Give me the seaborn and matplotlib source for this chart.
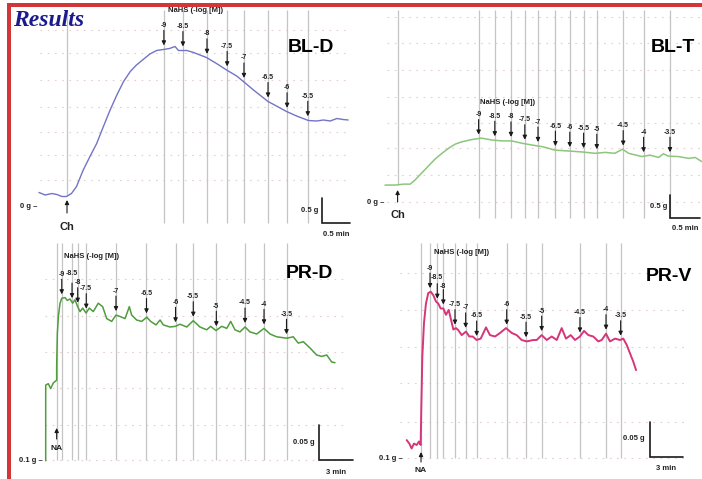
import numpy as np
import pandas as pd
import seaborn as sns
import matplotlib.pyplot as plt

# ---- traces (time in min, tension in g) ----
bld_t = [0.0, 0.11, 0.23, 0.32, 0.41, 0.49, 0.58, 0.67, 0.79, 0.91, 1.03, 1.15, 1.27, 1.39, 1.51,
         1.63, 1.74, 1.86, 1.98, 2.10, 2.22, 2.33, 2.43, 2.49, 2.64, 2.76, 2.99, 3.17, 3.35, 3.53,
         3.65, 3.83, 4.09, 4.24, 4.42, 4.60, 4.81, 4.96, 5.08, 5.20, 5.32, 5.43, 5.52]
bld_g = [0.29, 0.24, 0.27, 0.25, 0.21, 0.21, 0.27, 0.41, 0.74, 1.01, 1.27, 1.61, 1.94, 2.24, 2.51,
         2.71, 2.84, 2.95, 3.06, 3.13, 3.15, 3.17, 3.21, 3.13, 3.13, 3.09, 2.99, 2.87, 2.74, 2.62,
         2.51, 2.34, 2.11, 2.02, 1.91, 1.82, 1.73, 1.72, 1.74, 1.72, 1.77, 1.75, 1.74]

blt_t = [0.00, 0.17, 0.31, 0.42, 0.50, 0.61, 0.72, 0.83, 0.95, 1.06, 1.17, 1.28, 1.45, 1.61, 1.78,
         1.95, 2.11, 2.28, 2.45, 2.64, 2.83, 3.06, 3.28, 3.50, 3.67, 3.83, 3.96, 4.06, 4.28, 4.42,
         4.56, 4.64, 4.72, 4.89, 5.06, 5.17, 5.28]
blt_g = [0.39, 0.39, 0.41, 0.41, 0.50, 0.65, 0.80, 0.95, 1.08, 1.19, 1.28, 1.33, 1.38, 1.41, 1.37,
         1.35, 1.35, 1.30, 1.26, 1.22, 1.15, 1.13, 1.11, 1.08, 1.10, 1.08, 1.17, 1.08, 1.01, 1.04,
         0.99, 1.07, 1.02, 1.01, 0.97, 0.99, 0.90]

prd_t = [0.0, 0.0, 0.23, 0.44, 0.67, 0.97, 0.97, 1.03, 1.12, 1.27, 1.42, 1.71, 1.91, 2.15, 2.39,
         2.59, 2.83, 3.04, 3.27, 3.57, 3.86, 4.21, 4.65, 5.04, 5.40, 5.84, 6.22, 6.58, 7.02, 7.40,
         7.61, 8.05, 8.50, 8.94, 9.29, 9.76, 10.12, 10.41, 11.0, 11.50, 11.88, 12.48, 13.06, 13.65,
         14.25, 14.60, 15.07, 15.58, 16.02, 16.37, 16.75, 17.19, 17.64, 18.08, 18.67, 19.32, 19.85,
         20.44, 21.33, 21.91, 22.35, 22.80, 23.39, 23.98, 24.42, 24.87, 25.31, 25.60]
prd_g = [0.099, 0.207, 0.209, 0.202, 0.210, 0.214, 0.233, 0.281, 0.305, 0.324, 0.331, 0.332, 0.328,
         0.330, 0.324, 0.329, 0.319, 0.312, 0.317, 0.310, 0.317, 0.312, 0.324, 0.319, 0.302, 0.298,
         0.307, 0.305, 0.302, 0.319, 0.307, 0.300, 0.298, 0.304, 0.298, 0.293, 0.300, 0.293, 0.290,
         0.291, 0.294, 0.290, 0.299, 0.290, 0.286, 0.291, 0.285, 0.291, 0.288, 0.298, 0.286, 0.283,
         0.290, 0.283, 0.280, 0.288, 0.280, 0.276, 0.274, 0.276, 0.267, 0.269, 0.260, 0.250, 0.248,
         0.250, 0.240, 0.239]

prv_t = [0.0, 0.24, 0.45, 0.66, 0.91, 1.12, 1.27, 1.33, 1.42, 1.57, 1.75, 1.96, 2.18, 2.42, 2.66,
         2.87, 3.09, 3.33, 3.57, 3.82, 4.0, 4.24, 4.48, 4.69, 5.0, 5.39, 5.69, 6.0, 6.36, 6.73, 7.21,
         7.57, 8.03, 8.48, 9.03, 9.55, 10.0, 10.45, 10.91, 11.51, 11.82, 12.27, 12.73, 13.18, 13.64,
         14.09, 14.48, 14.91, 15.3, 15.75, 16.12, 16.51, 16.96, 17.42, 17.73, 18.12, 18.48, 18.94,
         19.39, 19.69, 20.0, 20.3, 20.6, 20.85]
prv_g = [0.127, 0.122, 0.115, 0.122, 0.120, 0.125, 0.120, 0.175, 0.246, 0.294, 0.322, 0.337, 0.339,
         0.334, 0.325, 0.322, 0.315, 0.315, 0.306, 0.313, 0.301, 0.285, 0.287, 0.284, 0.277, 0.282,
         0.275, 0.275, 0.270, 0.272, 0.288, 0.277, 0.275, 0.280, 0.287, 0.280, 0.277, 0.270, 0.268,
         0.270, 0.270, 0.277, 0.270, 0.275, 0.270, 0.287, 0.272, 0.277, 0.270, 0.275, 0.283, 0.277,
         0.275, 0.268, 0.270, 0.279, 0.268, 0.272, 0.270, 0.272, 0.263, 0.251, 0.239, 0.227]

# NaHS additions (-log [M]) and their times (min)
doses_bl_d = ['-9', '-8.5', '-8', '-7.5', '-7', '-6.5', '-6', '-5.5']
doses_all = ['-9', '-8.5', '-8', '-7.5', '-7', '-6.5', '-6', '-5.5', '-5', '-4.5', '-4', '-3.5']
bld_dose_t = [2.23, 2.57, 3.0, 3.36, 3.66, 4.09, 4.43, 4.80]
blt_dose_t = [1.56, 1.83, 2.10, 2.33, 2.55, 2.84, 3.08, 3.31, 3.53, 3.97, 4.31, 4.75]
prd_dose_t = [1.42, 2.33, 2.83, 3.59, 6.22, 8.92, 11.49, 13.06, 15.10, 17.64, 19.32, 21.31]
prv_dose_t = [2.12, 2.78, 3.33, 4.39, 5.36, 6.36, 9.09, 10.85, 12.27, 15.75, 18.12, 19.45]

# pre-contraction agent and time (min)
stim_names = ['Ch', 'Ch', 'NA', 'NA']
stim_t = [0.5, 0.21, 0.97, 1.3]

panel_names = ['BL-D', 'BL-T', 'PR-D', 'PR-V']
baseline_g = [0.0, 0.0, 0.1, 0.1]
scale_g = [0.5, 0.5, 0.05, 0.05]
scale_min = [0.5, 0.5, 3, 3]

sns.set_theme(style='white')
plt.rcParams['font.family'] = ['Liberation Sans', 'DejaVu Sans']

W, H = 702, 479
fig = plt.figure(figsize=(W / 100, H / 100), dpi=100)
fig.patch.set_facecolor('white')

# layout of each panel, in pixels of the figure
layouts = [
    dict(rect=(10, 8, 355, 240), x0=39, ppm=56, y0=207, ppg=50, vtop=10, vbot=223,
         rows=[30, 53, 80, 107, 132, 155, 180], rowx=(40, 350), base_x=37,
         stim=(200, 213, 227, 8), stim_to_trace=True, nahs=(196, 11), name=(311, 48),
         bar=(322, 223), glab=(318, 211), tlab=(336, 234), color='#7274c6', lw=1.0, nudge={}),
    dict(rect=(355, 8, 702, 240), x0=385, ppm=60, y0=203, ppg=46, vtop=10, vbot=218,
         rows=[17, 43, 70, 97, 123, 148, 175, 202], rowx=(387, 700), base_x=384,
         stim=(190, 202, 215, 8), stim_to_trace=True, nahs=(508, 102), name=(673, 47),
         bar=(670, 218), glab=(667, 207), tlab=(685, 228), color='#8cc67c', lw=1.1, nudge={}),
    dict(rect=(10, 240, 355, 479), x0=45.7, ppm=11.3, y0=460, ppg=700, vtop=243, vbot=460,
         rows=[279, 316, 352, 388, 425, 460], rowx=(45, 345), base_x=43,
         stim=(428, 439, 448, 6), stim_to_trace=False, nahs=(92, 257), name=(309, 273),
         bar=(319, 460), glab=(315, 442), tlab=(336, 472), color='#4f9d3c', lw=1.1,
         nudge={'-8.5': 5}),
    dict(rect=(355, 240, 702, 479), x0=406.7, ppm=11.0, y0=459, ppg=700, vtop=243, vbot=458,
         rows=[273, 310, 347, 383, 422, 458], rowx=(400, 685), base_x=403,
         stim=(452, 462, 470, 6), stim_to_trace=False, nahs=(462, 253), name=(669, 277),
         bar=(650, 457), glab=(645, 438), tlab=(666, 469), color='#d6357a', lw=1.4,
         nudge={'-8': -2, '-8.5': 1}),
]

traces = [(bld_t, bld_g), (blt_t, blt_g), (prd_t, prd_g), (prv_t, prv_g)]
dose_labels = [doses_bl_d, doses_all, doses_all, doses_all]
dose_times = [bld_dose_t, blt_dose_t, prd_dose_t, prv_dose_t]

txt = dict(fontweight='bold', color='#222222')
arrow = dict(arrowstyle='-|>', color='#1a1a1a', lw=0.8, mutation_scale=6, shrinkA=0, shrinkB=0)

for i, p in enumerate(layouts):
    L, T, R, B = p['rect']
    ax = fig.add_axes([L / W, 1 - B / H, (R - L) / W, (B - T) / H])
    X = lambda px, p=p: (px - p['x0']) / p['ppm']
    Y = lambda py, p=p, b=baseline_g[i]: b + (p['y0'] - py) / p['ppg']
    dy = 1.0 / p['ppg']

    t, g = traces[i]
    df = pd.DataFrame({'t': t, 'g': g})

    # faint chart-paper rows
    ax.hlines([Y(r) for r in p['rows']], X(p['rowx'][0]), X(p['rowx'][1]),
              colors='#e5cfcf', linestyles=(0, (1.5, 5)), lw=0.8, zorder=0)

    # NaHS addition lines
    ax.vlines(dose_times[i], Y(p['vbot']), Y(p['vtop']), colors='#c4c4c4', lw=0.9, zorder=1)

    # pre-contraction line
    st = stim_t[i]
    if p['stim_to_trace']:
        ax.vlines(st, np.interp(st, t, g), Y(p['vtop']), colors='#c4c4c4', lw=0.9, zorder=1)
    else:
        ax.vlines(st, Y(p['vbot']), Y(p['vtop']), colors='#c4c4c4', lw=0.9, zorder=1)

    sns.lineplot(data=df, x='t', y='g', ax=ax, estimator=None, sort=False,
                 color=p['color'], lw=p['lw'], zorder=3)

    # dose arrows and labels
    for lab, dt in zip(dose_labels[i], dose_times[i]):
        v = np.interp(dt, t, g)
        ax.annotate('', xy=(dt, v + 4 * dy), xytext=(dt, v + 19 * dy), arrowprops=arrow)
        ax.text(dt, v + (24 + p['nudge'].get(lab, 0)) * dy, lab, ha='center', va='center',
                fontsize=5, **txt)

    # Ch / NA marker
    tip, tail, ty, fs = p['stim']
    ax.annotate('', xy=(st, Y(tip)), xytext=(st, Y(tail)), arrowprops=arrow)
    ax.text(st, Y(ty), stim_names[i], ha='center', va='center', fontsize=fs, **txt)

    # baseline label
    base_txt = '{:g} g \u2013'.format(baseline_g[i])
    ax.text(X(p['base_x']), baseline_g[i], base_txt, ha='right', va='center', fontsize=5.5, **txt)

    ax.text(X(p['nahs'][0]), Y(p['nahs'][1]), 'NaHS (-log [M])', ha='center', va='center',
            fontsize=5.5, **txt)
    ax.text(X(p['name'][0]), Y(p['name'][1]), panel_names[i], ha='center', va='center',
            fontsize=14, fontweight='bold', color='black')

    # scale bar
    cx, cy = X(p['bar'][0]), Y(p['bar'][1])
    ax.plot([cx, cx, cx + scale_min[i]], [cy + scale_g[i], cy, cy], color='#1a1a1a', lw=1.2,
            solid_joinstyle='miter', clip_on=False)
    ax.text(X(p['glab'][0]), Y(p['glab'][1]), '{:g} g'.format(scale_g[i]), ha='right',
            va='center', fontsize=5.5, **txt)
    ax.text(X(p['tlab'][0]), Y(p['tlab'][1]), '{:g} min'.format(scale_min[i]), ha='center',
            va='center', fontsize=5.5, **txt)

    ax.set_xlim(X(L), X(R))
    ax.set_ylim(Y(B), Y(T))
    ax.axis('off')

# red frame and heading
red = '#d23636'
fig.add_artist(plt.Rectangle((7 / W, 0), 4 / W, 1 - 3 / H, transform=fig.transFigure,
                             color=red, lw=0))
fig.add_artist(plt.Rectangle((7 / W, 1 - 7 / H), 1, 4 / H, transform=fig.transFigure,
                             color=red, lw=0))
fig.text(13 / W, 1 - 20 / H, 'Results', family=['Liberation Serif', 'DejaVu Serif'],
         fontstyle='italic', fontweight='bold', fontsize=17, color='#1b1b8e',
         ha='left', va='center')

fig.savefig('out.png', dpi=100)
